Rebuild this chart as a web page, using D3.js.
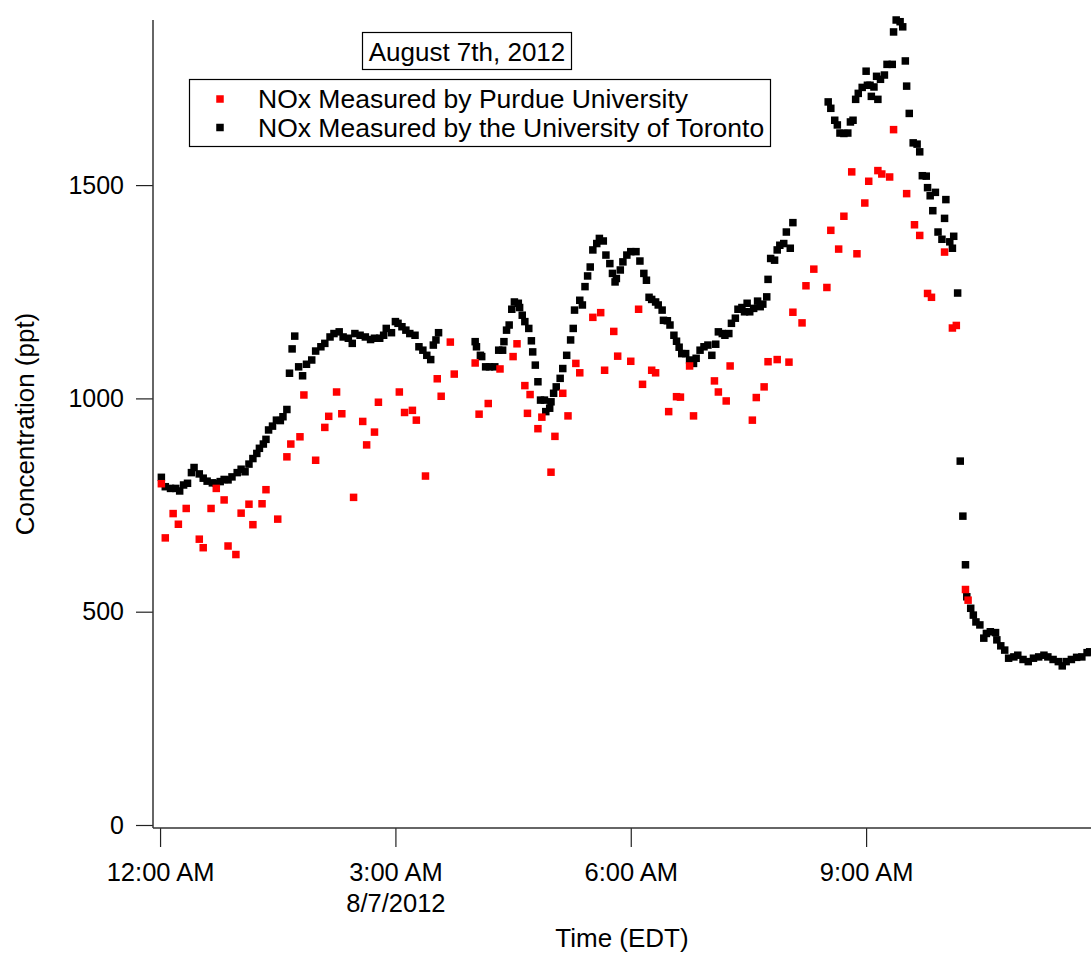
<!DOCTYPE html>
<html>
<head>
<meta charset="utf-8">
<script src="https://cdn.jsdelivr.net/npm/d3@7"></script>
<style>
  body { margin: 0; background: #fff; }
  svg { display: block; font-family: "Liberation Sans", Arial, sans-serif; }
</style>
</head>
<body>
<div id="chart"></div>
<script>
// minutes after midnight, 8/7/2012 (EDT)
const purdueMinutes = [1, 4, 10, 14, 20, 30, 33, 39, 43, 49, 52, 58, 62, 68, 71, 78, 81, 90, 97, 100,
  107, 110, 119, 126, 129, 135, 139, 148, 155, 158, 164, 167, 183, 187, 193, 196, 203, 212, 215, 222,
  225, 241, 244, 251, 260, 270, 273, 279, 281, 283, 289, 292, 299, 302, 308, 312, 318, 321, 331, 337,
  340, 347, 350, 360, 366, 369, 376, 379, 389, 395, 398, 405, 408, 424, 427, 433, 436, 453, 456, 462,
  465, 472, 481, 484, 491, 494, 500, 510, 513, 519, 523, 529, 533, 539, 542, 549, 552, 558, 561, 571,
  577, 581, 587, 590, 600, 606, 609, 616, 618];
const purdueNOx = [800, 673, 730, 705, 742, 670, 650, 742, 789, 762, 654, 634, 731, 752, 704, 753, 786, 717, 863, 893,
  910, 1008, 855, 932, 958, 1015, 964, 768, 946, 891, 921, 991, 1015, 967, 972, 949, 818, 1046, 1005, 1132,
  1057, 1083, 963, 988, 1069, 1098, 1128, 1030, 965, 1009, 929, 956, 827, 911, 1012, 959, 1082, 1060, 1190, 1201,
  1066, 1157, 1099, 1087, 1209, 1033, 1066, 1060, 969, 1004, 1003, 1076, 959, 1041, 1015, 994, 1076, 949, 1002, 1027,
  1086, 1091, 1085, 1202, 1177, 1264, 1303, 1260, 1394, 1350, 1427, 1531, 1339, 1458, 1509, 1534, 1526, 1519, 1630, 1480,
  1407, 1382, 1246, 1237, 1343, 1165, 1171, 552, 527];

const torontoMinutes = [1, 4, 8, 12, 15, 18, 21, 24, 26, 30, 33, 36, 40, 43, 46, 49, 52, 55, 59, 62,
  65, 68, 71, 74, 76, 79, 81, 83, 86, 89, 92, 94, 97, 99, 101, 103, 106, 109, 112, 116,
  119, 123, 126, 130, 133, 137, 140, 144, 147, 149, 153, 157, 161, 164, 168, 171, 173, 177, 180, 182,
  185, 188, 191, 195, 198, 201, 204, 207, 209, 211, 213, 241, 242, 245, 246, 249, 252, 256, 259, 262,
  263, 265, 267, 269, 271, 274, 275, 277, 279, 282, 284, 285, 287, 289, 291, 294, 295, 298, 299, 301,
  303, 306, 308, 311, 314, 316, 317, 321, 323, 325, 327, 329, 331, 334, 336, 339, 341, 344, 346, 348,
  349, 352, 354, 357, 360, 364, 367, 370, 372, 374, 376, 379, 381, 384, 385, 388, 390, 393, 395, 397,
  399, 402, 405, 408, 410, 413, 416, 419, 422, 425, 427, 430, 432, 435, 437, 440, 442, 445, 447, 449,
  451, 454, 457, 459, 461, 464, 465, 467, 470, 472, 474, 477, 479, 482, 484, 511, 513, 516, 518, 520,
  523, 526, 528, 530, 532, 534, 537, 540, 541, 543, 544, 546, 548, 549, 551, 554, 556, 560, 561, 563,
  566, 568, 570, 571, 573, 576, 579, 581, 583, 586, 587, 589, 591, 593, 595, 598, 600, 601, 604, 606,
  607, 610, 612, 614, 616, 617, 620, 622, 624, 627, 630, 632, 635, 639, 640, 643, 646, 649, 653, 656,
  660, 664, 668, 672, 676, 679, 683, 687, 690, 693, 697, 701, 705, 709, 711];
const torontoNOx = [815, 793, 789, 789, 783, 797, 801, 826, 838, 823, 813, 806, 802, 801, 805, 810, 809, 816, 826, 834,
  828, 846, 859, 871, 883, 893, 904, 926, 935, 949, 948, 957, 974, 1059, 1116, 1146, 1074, 1053, 1080, 1090,
  1111, 1121, 1129, 1144, 1152, 1156, 1144, 1141, 1129, 1152, 1148, 1144, 1138, 1141, 1141, 1148, 1164, 1154, 1180, 1176,
  1168, 1160, 1152, 1148, 1121, 1113, 1101, 1091, 1125, 1137, 1154, 1133, 1121, 1101, 1098, 1074, 1074, 1074, 1113, 1113,
  1133, 1160, 1172, 1209, 1226, 1223, 1213, 1195, 1180, 1164, 1135, 1109, 1078, 1039, 996, 996, 969, 977, 992, 1012,
  1027, 1047, 1070, 1101, 1137, 1164, 1207, 1230, 1219, 1262, 1287, 1308, 1348, 1363, 1375, 1369, 1336, 1316, 1293, 1273,
  1281, 1301, 1320, 1336, 1344, 1344, 1322, 1293, 1277, 1237, 1232, 1226, 1219, 1207, 1183, 1182, 1172, 1148, 1134, 1120,
  1105, 1105, 1090, 1082, 1094, 1113, 1121, 1125, 1101, 1127, 1156, 1152, 1148, 1152, 1176, 1188, 1209, 1213, 1203, 1223,
  1203, 1211, 1228, 1215, 1221, 1238, 1279, 1328, 1324, 1348, 1359, 1363, 1390, 1352, 1412, 1695, 1680, 1652, 1641, 1622,
  1621, 1622, 1648, 1652, 1701, 1715, 1729, 1767, 1734, 1734, 1708, 1730, 1755, 1701, 1748, 1758, 1783, 1783, 1859, 1887,
  1883, 1871, 1791, 1732, 1668, 1599, 1596, 1578, 1522, 1521, 1494, 1475, 1440, 1483, 1390, 1373, 1422, 1466, 1367, 1352,
  1380, 1247, 853, 724, 610, 535, 508, 492, 476, 469, 438, 449, 453, 451, 434, 420, 410, 391, 394, 398,
  388, 383, 391, 394, 398, 394, 388, 383, 373, 383, 388, 393, 394, 404, 406];

const yTicks = [0, 500, 1000, 1500];
const xTickHours = [0, 3, 6, 9];
const dateLabel = "8/7/2012";
const seriesNames = ["NOx Measured by Purdue University", "NOx Measured by the University of Toronto"];
const seriesColors = ["#ff0000", "#000000"];

const day = new Date(2012, 7, 7, 0, 0);
const toDate = (m) => new Date(day.getTime() + m * 60000);

const width = 1091;
const height = 954;
const plot = { left: 153, right: 1091, top: 20, zeroY: 825, axisY: 828 };
const fontSize = 26;

const svg = d3
  .select("#chart")
  .append("svg")
  .attr("width", width)
  .attr("height", height);

const x = d3
  .scaleTime()
  .domain([toDate(-5.4), toDate(712)])
  .range([plot.left, plot.right]);

const y = d3.scaleLinear().domain([0, 1887]).range([plot.zeroY, plot.top]);

// axes
const xAxis = svg
  .append("g")
  .attr("transform", `translate(0,${plot.axisY})`)
  .call(
    d3
      .axisBottom(x)
      .tickValues(xTickHours.map((h) => toDate(h * 60)))
      .tickSize(19)
      .tickPadding(16)
      .tickFormat(d3.timeFormat("%-I:%M %p"))
  );
xAxis.select(".domain").remove();
xAxis.selectAll("line").attr("stroke", "#222").attr("stroke-width", 1.2);
xAxis.selectAll("text").attr("font-size", 25.5).attr("fill", "#000");
xAxis
  .selectAll(".tick")
  .filter((d, i) => i === 1)
  .append("text")
  .attr("y", 84)
  .attr("fill", "#000")
  .attr("font-size", 25.5)
  .attr("text-anchor", "middle")
  .text(dateLabel);

const yAxis = svg
  .append("g")
  .attr("transform", `translate(${plot.left},0)`)
  .call(
    d3
      .axisLeft(y)
      .tickValues(yTicks)
      .tickSize(17)
      .tickPadding(12)
      .tickFormat(d3.format("d"))
  );
yAxis.select(".domain").remove();
yAxis.selectAll("line").attr("stroke", "#222").attr("stroke-width", 1.2);
yAxis.selectAll("text").attr("font-size", 25).attr("fill", "#000");

svg
  .append("line")
  .attr("x1", plot.left).attr("x2", plot.left)
  .attr("y1", plot.top).attr("y2", plot.axisY)
  .attr("stroke", "#333").attr("stroke-width", 1.5);
svg
  .append("line")
  .attr("x1", plot.left).attr("x2", plot.right)
  .attr("y1", plot.axisY).attr("y2", plot.axisY)
  .attr("stroke", "#333").attr("stroke-width", 1.5);

// markers
const size = 7.5;
const toronto = torontoMinutes.map((m, i) => ({ t: toDate(m), v: torontoNOx[i] }));
const purdue = purdueMinutes.map((m, i) => ({ t: toDate(m), v: purdueNOx[i] }));

svg
  .append("g")
  .selectAll("rect")
  .data(toronto)
  .join("rect")
  .attr("x", (d) => x(d.t) - size / 2)
  .attr("y", (d) => y(d.v) - size / 2)
  .attr("width", size)
  .attr("height", size)
  .attr("fill", seriesColors[1]);

svg
  .append("g")
  .selectAll("rect")
  .data(purdue)
  .join("rect")
  .attr("x", (d) => x(d.t) - size / 2)
  .attr("y", (d) => y(d.v) - size / 2)
  .attr("width", size)
  .attr("height", size)
  .attr("fill", seriesColors[0]);

// axis titles
svg
  .append("text")
  .attr("x", (plot.left + plot.right) / 2)
  .attr("y", 947)
  .attr("text-anchor", "middle")
  .attr("font-size", fontSize)
  .text("Time (EDT)");

svg
  .append("text")
  .attr("transform", "rotate(-90)")
  .attr("x", -(plot.top + plot.axisY) / 2)
  .attr("y", 34)
  .attr("text-anchor", "middle")
  .attr("font-size", fontSize)
  .text("Concentration (ppt)");

// title box
svg
  .append("rect")
  .attr("x", 362.5).attr("y", 32.5)
  .attr("width", 209).attr("height", 37)
  .attr("fill", "#fff").attr("stroke", "#000").attr("stroke-width", 1.2);
svg
  .append("text")
  .attr("x", 467)
  .attr("y", 61)
  .attr("text-anchor", "middle")
  .attr("font-size", fontSize)
  .text("August 7th, 2012");

// legend
svg
  .append("rect")
  .attr("x", 189.5).attr("y", 79.5)
  .attr("width", 581).attr("height", 67)
  .attr("fill", "#fff").attr("stroke", "#000").attr("stroke-width", 1.2);

const legend = svg
  .append("g")
  .selectAll("g")
  .data(seriesNames)
  .join("g")
  .attr("transform", (d, i) => `translate(0,${99 + i * 28.5})`);
legend
  .append("rect")
  .attr("x", 220 - size / 2)
  .attr("y", -size / 2)
  .attr("width", size)
  .attr("height", size)
  .attr("fill", (d, i) => seriesColors[i]);
legend
  .append("text")
  .attr("x", 258)
  .attr("y", 9)
  .attr("font-size", 26.5)
  .text((d) => d);
</script>
</body>
</html>
